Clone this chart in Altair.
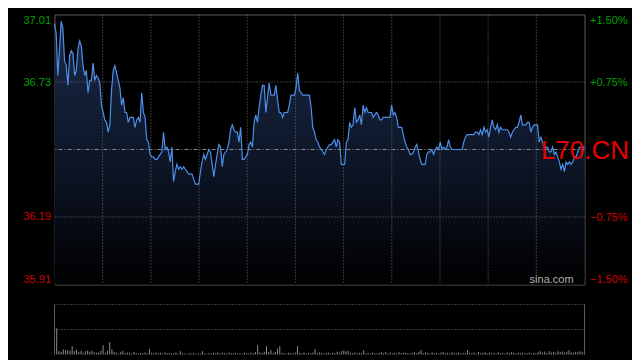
import altair as alt
import pandas as pd

# ---------------- data ----------------
prev_close = 36.46
price_lo, price_hi = 35.913, 37.007

prices_a = [36.97, 36.93, 36.76, 36.87, 36.98, 36.95, 36.82, 36.80, 36.72, 36.84,
            36.86, 36.85, 36.76, 36.78, 36.87, 36.90, 36.88, 36.80, 36.76, 36.78,
            36.69, 36.74, 36.74, 36.81, 36.74, 36.76, 36.75, 36.73, 36.64, 36.61,
            36.58, 36.57, 36.53, 36.56, 36.70, 36.78, 36.80, 36.77, 36.74, 36.71,
            36.64, 36.67, 36.61, 36.61, 36.57, 36.59, 36.59, 36.59, 36.55, 36.58,
            36.59, 36.57, 36.69, 36.61, 36.59, 36.50, 36.49, 36.44, 36.43, 36.43,
            36.42, 36.42, 36.43, 36.44, 36.45, 36.53, 36.46, 36.47, 36.45, 36.41,
            36.47, 36.33, 36.37, 36.40, 36.38, 36.39, 36.38, 36.39, 36.38, 36.37,
            36.36]
prices_b = [36.36, 36.36, 36.34, 36.32, 36.32, 36.32, 36.37, 36.41, 36.44, 36.42,
            36.44, 36.46, 36.45, 36.40, 36.35, 36.40, 36.44, 36.48, 36.47, 36.39,
            36.44, 36.45, 36.46, 36.49, 36.54, 36.56, 36.54, 36.53, 36.53, 36.49,
            36.55, 36.42, 36.42, 36.43, 36.44, 36.48, 36.49, 36.47, 36.57, 36.60,
            36.57, 36.63, 36.68, 36.72, 36.72, 36.61, 36.67, 36.73, 36.68, 36.68,
            36.68, 36.72, 36.66, 36.61, 36.61, 36.59, 36.61, 36.61, 36.61, 36.64,
            36.68, 36.68, 36.68, 36.71, 36.77, 36.70, 36.69, 36.68, 36.68, 36.68,
            36.68, 36.68, 36.63, 36.55, 36.53, 36.50, 36.49, 36.47, 36.46]
prices_c = [36.45, 36.44, 36.46, 36.47, 36.48, 36.48, 36.49, 36.50, 36.47, 36.50,
            36.49, 36.40, 36.40, 36.40, 36.49, 36.50, 36.57, 36.55, 36.56, 36.63,
            36.57, 36.58, 36.60, 36.56, 36.64, 36.61, 36.63, 36.61, 36.61, 36.61,
            36.59, 36.60, 36.61, 36.60, 36.58, 36.58, 36.59, 36.59, 36.59, 36.59,
            36.59, 36.64, 36.60, 36.61, 36.59, 36.55, 36.55, 36.55, 36.52, 36.49,
            36.47, 36.46, 36.44, 36.44, 36.45, 36.47, 36.48, 36.45, 36.42, 36.40,
            36.40, 36.40, 36.44, 36.45, 36.45, 36.46, 36.44, 36.46, 36.47, 36.46,
            36.49, 36.46, 36.47, 36.46, 36.47, 36.50, 36.47, 36.46, 36.46]
prices_d = [36.46, 36.46, 36.46, 36.46, 36.46, 36.49, 36.51, 36.52, 36.52, 36.52,
            36.52, 36.52, 36.53, 36.53, 36.52, 36.54, 36.52, 36.55, 36.53, 36.54,
            36.51, 36.55, 36.58, 36.55, 36.54, 36.56, 36.53, 36.55, 36.54, 36.54,
            36.54, 36.54, 36.53, 36.51, 36.53, 36.54, 36.55, 36.55, 36.57, 36.60,
            36.56, 36.56, 36.56, 36.57, 36.57, 36.53, 36.55, 36.56, 36.56, 36.56,
            36.49, 36.51, 36.49, 36.46, 36.47, 36.47, 36.45, 36.45, 36.47, 36.44,
            36.45, 36.43, 36.41, 36.38, 36.40, 36.37, 36.41, 36.40, 36.41, 36.40,
            36.41, 36.43, 36.43, 36.45, 36.47, 36.47, 36.47, 36.47]

volumes = [3280, 2620, 330, 270, 500, 430, 430, 370, 830, 330,
           500, 270, 370, 170, 330, 370, 270, 370, 230, 170,
           200, 370, 930, 170, 370, 1230, 500, 270, 170, 100,
           270, 370, 130, 200, 170, 100, 270, 130, 100, 170,
           130, 200, 100, 530, 170, 130, 200, 130, 170, 100,
           200, 130, 170, 100, 130, 200, 100, 330, 130, 100,
           70, 130, 100, 170, 70, 100, 130, 330, 100, 70,
           130, 100, 170, 130, 200, 100, 170, 130, 100, 200,
           130, 100, 170, 100, 130, 70, 200, 130, 100, 170,
           130, 270, 930, 200, 170, 270, 830, 230, 430, 170,
           270, 600, 830, 170, 130, 100, 170, 130, 100, 200,
           830, 170, 130, 200, 100, 170, 130, 200, 530, 130,
           200, 170, 100, 130, 200, 100, 170, 130, 270, 170,
           330, 400, 300, 370, 170, 130, 200, 100, 170, 130,
           430, 130, 170, 100, 200, 130, 100, 170, 230, 130,
           270, 100, 200, 130, 170, 100, 230, 130, 200, 170,
           130, 100, 170, 230, 130, 270, 430, 130, 200, 170,
           100, 230, 130, 170, 100, 200, 270, 130, 170, 100,
           230, 170, 130, 200, 100, 170, 130, 430, 170, 130,
           200, 100, 270, 130, 170, 230, 100, 200, 130, 170,
           100, 230, 130, 170, 100, 200, 130, 230, 170, 100,
           200, 130, 170, 100, 130, 200, 100, 170, 130, 230,
           330, 170, 300, 130, 330, 200, 270, 170, 330, 230,
           300, 170, 270, 430, 200, 170, 270, 230, 330, 270,
           300]
vol_max = 5000

left_ticks = [35.913, 36.187, 36.733, 37.007]
right_ticks = [-1.5, -0.75, 0.75, 1.5]
pct_grid = [-0.75, 0.75]
vol_grid = [2500, 5000]
code_label = "L70.CN"
site_label = "sina.com"

# ---------------- frames ----------------
prices = prices_a + prices_b + prices_c + prices_d
n = len(prices)
price_df = pd.DataFrame({"i": list(range(n)), "price": prices})
vol_df = pd.DataFrame({"j": list(range(len(volumes))), "vol": volumes})
vgrid_df = pd.DataFrame({"g": [(n - 1) * k / 11 for k in range(1, 11)]})
pct_df = pd.DataFrame({"p": pct_grid})
zero_df = pd.DataFrame({"p": [0.0]})
vgrid_vol_df = pd.DataFrame({"v": vol_grid})
border_df = pd.DataFrame({"b": [0, len(volumes) - 1]})
right_axis_df = pd.DataFrame({"p": right_ticks})

FONT = "Liberation Sans"
GREEN = "#00a000"
RED = "#d00000"
GRID = "#6e6e6e"
BORDER = "#5a5a5a"

xs = alt.Scale(domain=[0, n - 1], nice=False, zero=False)
ys = alt.Scale(domain=[price_lo, price_hi], nice=False, zero=False)
ps = alt.Scale(domain=[-1.5, 1.5], nice=False, zero=False)
vxs = alt.Scale(domain=[0, len(volumes) - 1], nice=False, zero=False)
vys = alt.Scale(domain=[0, vol_max], range=[340, 290], nice=False, zero=False)

gradient = alt.Gradient(
    gradient="linear",
    stops=[alt.GradientStop(color="#1a2a48", offset=0),
           alt.GradientStop(color="#0d1526", offset=0.55),
           alt.GradientStop(color="#000000", offset=1)],
    x1=0, x2=0, y1=0, y2=1,
)

area = alt.Chart(price_df).mark_area(color=gradient, interpolate="linear").encode(
    x=alt.X("i:Q", scale=xs, axis=None),
    y=alt.Y("price:Q", scale=ys,
            axis=alt.Axis(values=left_ticks, format=".2f", orient="left", grid=False,
                          ticks=False, tickSize=0, domain=False, labelFlush=True,
                          labelPadding=4, labelFont=FONT, labelFontSize=11,
                          labelColor=alt.condition("datum.value > 36.46",
                                                   alt.value(GREEN), alt.value(RED)),
                          title=None)),
    y2=alt.datum(price_lo),
)

pct_axis = alt.Chart(right_axis_df).mark_rule(opacity=0).encode(
    y=alt.Y("p:Q", scale=ps,
            axis=alt.Axis(values=right_ticks, orient="right", grid=False, ticks=False,
                          tickSize=0, domain=False, labelFlush=True, labelPadding=5,
                          labelFont=FONT, labelFontSize=11,
                          labelExpr="(datum.value > 0 ? '+' : '') + format(datum.value, '.2f') + '%'",
                          labelColor=alt.condition("datum.value > 0",
                                                   alt.value(GREEN), alt.value(RED)),
                          title=None)),
)

hgrid = alt.Chart(pct_df).mark_rule(color=GRID, strokeDash=[1, 2], strokeWidth=1).encode(
    y=alt.Y("p:Q", scale=ps, axis=None),
)
zline = alt.Chart(zero_df).mark_rule(color="#8a8a8a", strokeDash=[4, 2, 1, 2], strokeWidth=1).encode(
    y=alt.Y("p:Q", scale=ps, axis=None),
)
vgrid = alt.Chart(vgrid_df).mark_rule(color=GRID, strokeDash=[1, 2], strokeWidth=1).encode(
    x=alt.X("g:Q", scale=xs, axis=None),
)

line = alt.Chart(price_df).mark_line(color="#4d8ee8", strokeWidth=1.2, interpolate="linear").encode(
    x=alt.X("i:Q", scale=xs, axis=None),
    y=alt.Y("price:Q", scale=ys, axis=None),
)

code_text = alt.Chart(pd.DataFrame({"t": [code_label], "x": [290.0], "y": [36.42]})).mark_text(
    font=FONT, fontSize=26, color="#e80000", align="left", baseline="alphabetic"
).encode(
    x=alt.X("x:Q", scale=xs, axis=None),
    y=alt.Y("y:Q", scale=ys, axis=None),
    text="t:N",
)
site_text = alt.Chart(pd.DataFrame({"t": [site_label], "x": [309.5], "y": [35.918]})).mark_text(
    font=FONT, fontSize=11, color="#b0b0b0", align="right", baseline="alphabetic"
).encode(
    x=alt.X("x:Q", scale=xs, axis=None),
    y=alt.Y("y:Q", scale=ys, axis=None),
    text="t:N",
)

vol_bars = alt.Chart(vol_df).mark_rule(color="#8c8c8c", strokeWidth=1).encode(
    x=alt.X("j:Q", scale=vxs, axis=None),
    y=alt.Y("vol:Q", scale=vys, axis=None),
    y2=alt.Y2Datum(0),
)
vol_grid_rules = alt.Chart(vgrid_vol_df).mark_rule(color=GRID, strokeDash=[1, 2], strokeWidth=1).encode(
    y=alt.Y("v:Q", scale=vys, axis=None),
)
vol_border = alt.Chart(border_df).mark_rule(color=BORDER, strokeWidth=1).encode(
    x=alt.X("b:Q", scale=vxs, axis=None),
    y=alt.YDatum(0, scale=vys, axis=None),
    y2=alt.Y2Datum(vol_max),
)

chart = alt.layer(
    area, pct_axis, hgrid, zline, vgrid, line, code_text, site_text,
    vol_bars, vol_grid_rules, vol_border,
).resolve_scale(
    x="independent", y="independent"
).properties(
    width=530, height=270,
    autosize=alt.AutoSizeParams(type="none"),
    padding={"left": 46.5, "top": 6.5, "right": 47.5, "bottom": 75.5},
    background="#000000",
).configure_view(
    stroke=BORDER, strokeWidth=1
)

chart.save("out.html", embed_options={"renderer": "svg", "actions": False})
